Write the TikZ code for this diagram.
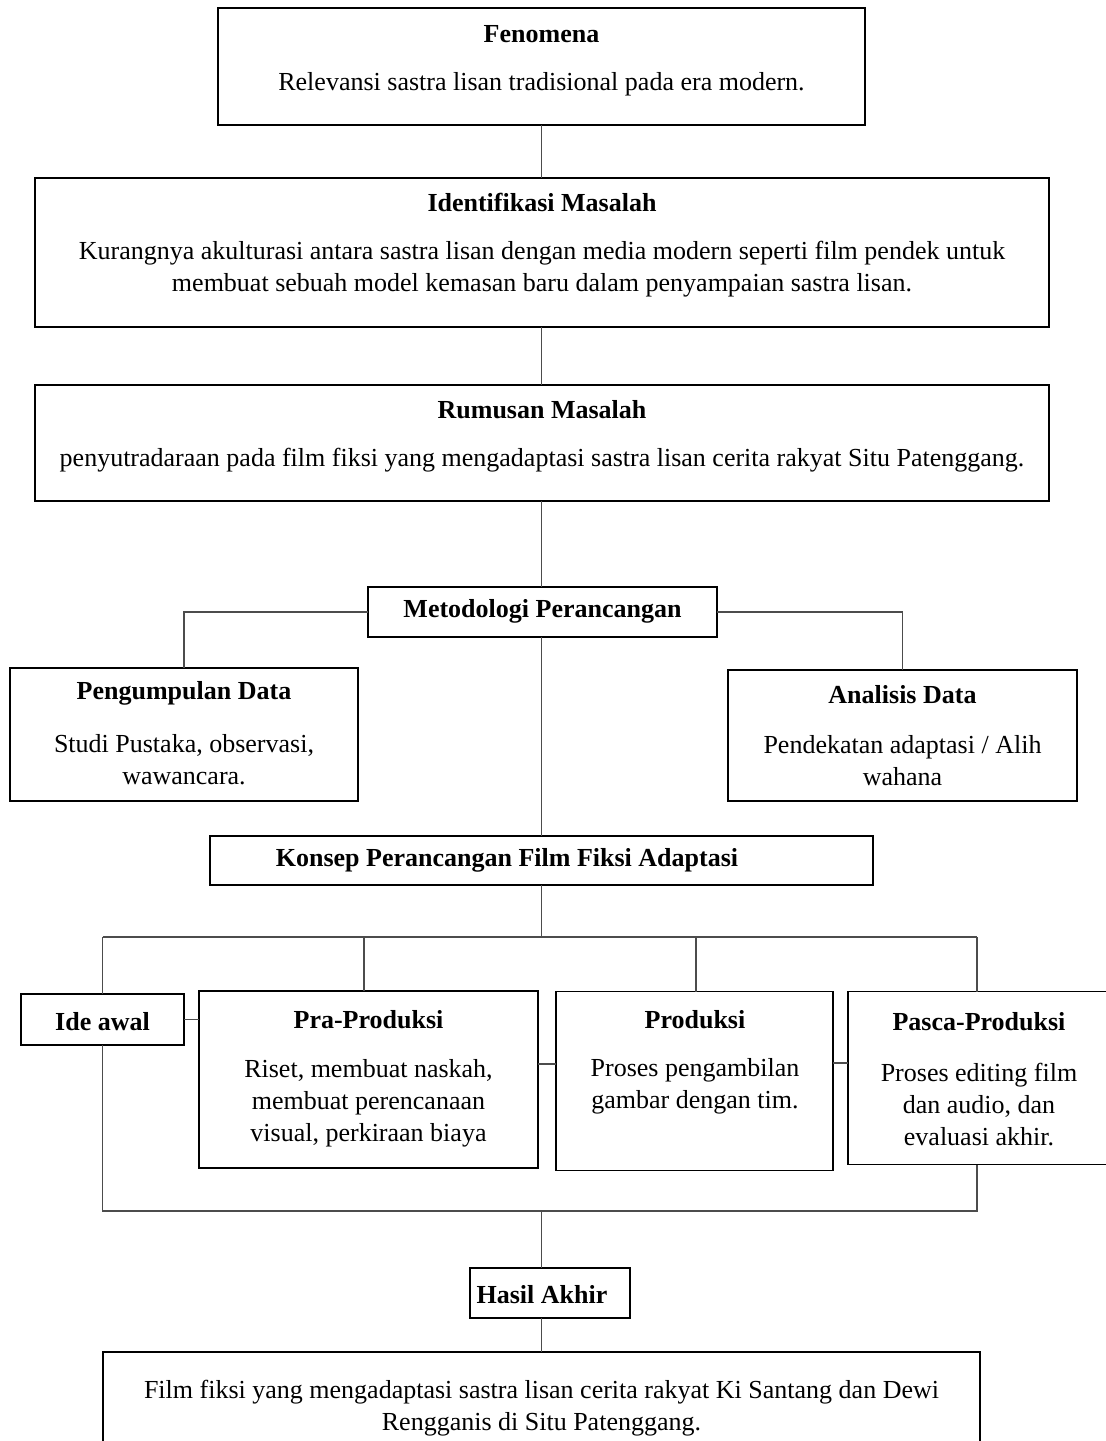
\documentclass[tikz,border=0pt]{standalone}
\usepackage{fontspec}
\setmainfont{Liberation Serif}
\begin{document}
\begin{tikzpicture}[x=1pt,y=-1pt,
  box/.style={draw=black, line width=1.8pt, inner sep=0pt, outer sep=0pt},
  conn/.style={draw=black!70, line width=1.3pt},
  txt/.style={font=\fontsize{26}{32}\selectfont, align=center, inner sep=0pt, yshift=-2pt},
  ttl/.style={txt, font=\fontsize{26}{32}\selectfont\bfseries}]
\useasboundingbox[fill=white] (0,0) rectangle (1106,1441);
% boxes
\node[box, minimum width=647pt, minimum height=117pt] (fen) at (541.5,66.5) {};
\node[box, minimum width=1014pt, minimum height=149pt] (ide) at (542,252.5) {};
\node[box, minimum width=1014pt, minimum height=116pt] (rum) at (542,443) {};
\node[box, minimum width=349pt, minimum height=50pt] (met) at (542.5,612) {};
\node[box, minimum width=348pt, minimum height=133pt] (pen) at (184,734.5) {};
\node[box, minimum width=349pt, minimum height=131pt] (ana) at (902.5,735.5) {};
\node[box, minimum width=663pt, minimum height=49pt] (kon) at (541.5,860.5) {};
\node[box, minimum width=163pt, minimum height=51pt] (idea) at (102.5,1019.5) {};
\node[box, minimum width=339pt, minimum height=177pt] (pra) at (368.5,1079.5) {};
\node[box, minimum width=277pt, minimum height=179pt] (pro) at (694.5,1081) {};
\node[box, minimum width=264pt, minimum height=173pt] (pas) at (980,1078) {};
\node[box, minimum width=160pt, minimum height=50pt] (has) at (550,1293) {};
\node[box, minimum width=877pt, minimum height=108pt] (fin) at (541.5,1406) {};
% texts
\node[ttl] (fenT) at (541.5,32) {Fenomena};
\node[txt] (fenB) at (541.5,82) {Relevansi sastra lisan tradisional pada era modern.};
\node[ttl] (ideT) at (542,200) {Identifikasi Masalah};
\node[txt] (ideB) at (542,267) {Kurangnya akulturasi antara sastra lisan dengan media modern seperti film pendek untuk\\ membuat sebuah model kemasan baru dalam penyampaian sastra lisan.};
\node[ttl] (rumT) at (542,408) {Rumusan Masalah};
\node[txt] (rumB) at (542,458) {penyutradaraan pada film fiksi yang mengadaptasi sastra lisan cerita rakyat Situ Patenggang.};
\node[ttl] (metT) at (542.5,609) {Metodologi Perancangan};
\node[ttl] (penT) at (184,691) {Pengumpulan Data};
\node[txt] (penB) at (184,758) {Studi Pustaka, observasi,\\ wawancara.};
\node[ttl] (anaT) at (902.5,693) {Analisis Data};
\node[txt] (anaB) at (902.5,759) {Pendekatan adaptasi / Alih\\ wahana};
\node[ttl] (konT) at (507,858) {Konsep Perancangan Film Fiksi Adaptasi};
\node[ttl] (ideaT) at (102.5,1020) {Ide awal};
\node[ttl] (praT) at (368.5,1018) {Pra-Produksi};
\node[txt] (praB) at (368.5,1101) {Riset, membuat naskah,\\ membuat perencanaan\\ visual, perkiraan biaya};
\node[ttl] (proT) at (695,1018) {Produksi};
\node[txt] (proB) at (695,1084) {Proses pengambilan\\ gambar dengan tim.};
\node[ttl] (pasT) at (979,1020) {Pasca-Produksi};
\node[txt] (pasB) at (979,1103) {Proses editing film\\ dan audio, dan\\ evaluasi akhir.};
\node[ttl] (hasT) at (542,1293) {Hasil Akhir};
\node[txt] (finB) at (541.5,1406) {Film fiksi yang mengadaptasi sastra lisan cerita rakyat Ki Santang dan Dewi\\ Rengganis di Situ Patenggang.};
% helper coordinates
\coordinate (bus) at (541.5,937);
\coordinate (busL) at (102.5,937);
\coordinate (busR) at (977,937);
\coordinate (praTop) at (364,991);
\coordinate (proTop) at (696,991.5);
\coordinate (pasTop) at (977,991.5);
\coordinate (busPra) at (364,937);
\coordinate (busPro) at (696,937);
\coordinate (low) at (541.5,1211);
\coordinate (lowL) at (102.5,1211);
\coordinate (lowR) at (977,1211);
\coordinate (pasBot) at (977,1164.5);
\coordinate (pp1) at (538,1064);
\coordinate (pp2) at (556,1064);
\coordinate (pp3) at (833,1063);
\coordinate (pp4) at (848,1063);
% connectors
\draw[conn] (fen.south) -- (fen.south |- ide.north);
\draw[conn] (fen.south |- ide.south) -- (fen.south |- rum.north);
\draw[conn] (fen.south |- rum.south) -- (fen.south |- met.north);
\draw[conn] (met.west) -| (pen.north);
\draw[conn] (met.east) -| (ana.north);
\draw[conn] (fen.south |- met.south) -- (fen.south |- kon.north);
\draw[conn] (fen.south |- kon.south) -- (bus);
\draw[conn] (busL) -- (busR);
\draw[conn] (busL) -- (idea.north);
\draw[conn] (busPra) -- (praTop);
\draw[conn] (busPro) -- (proTop);
\draw[conn] (busR) -- (pasTop);
\draw[conn] (idea.east) -- (idea.east -| pra.west);
\draw[conn] (pp1) -- (pp2);
\draw[conn] (pp3) -- (pp4);
\draw[conn] (idea.south) -- (lowL) -- (lowR) -- (pasBot);
\draw[conn] (low) -- (low |- has.north);
\draw[conn] (low |- has.south) -- (low |- fin.north);
\end{tikzpicture}
\end{document}
